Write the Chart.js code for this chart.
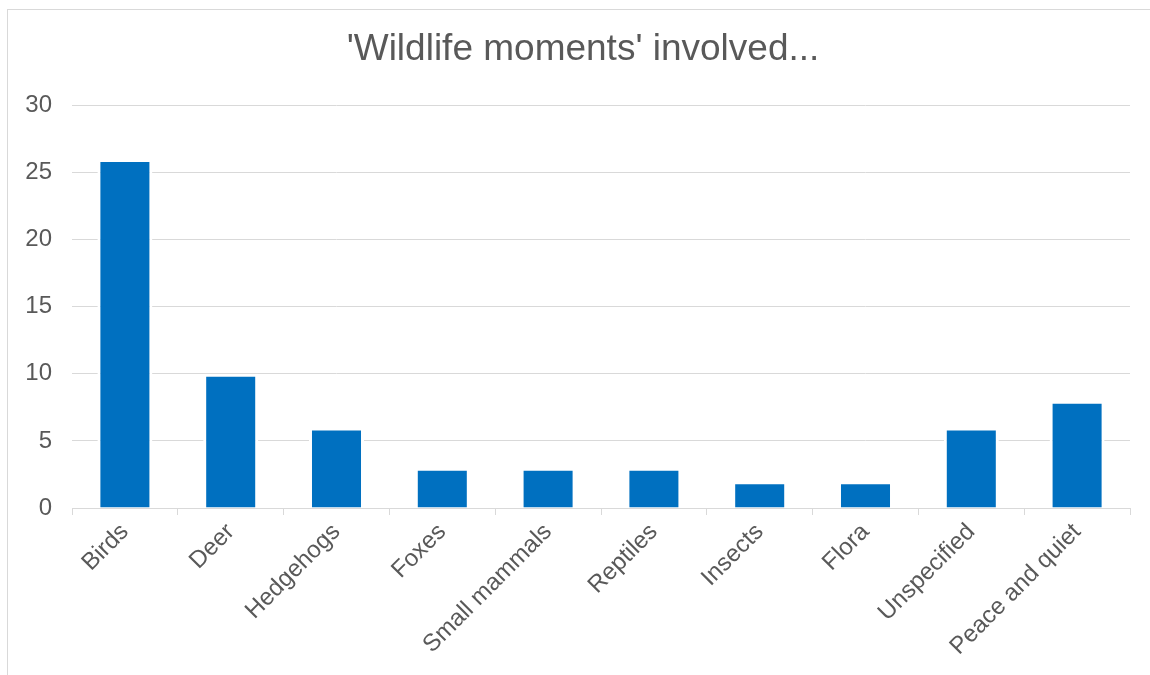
<!DOCTYPE html>
<html>
<head>
<meta charset="utf-8">
<script src="https://cdn.jsdelivr.net/npm/chart.js@4"></script>
<style>
  html, body { margin: 0; padding: 0; background: #fff; overflow: hidden; }
  #frame {
    position: absolute; left: 7px; top: 9px;
    width: 1152px; height: 700px;
    border: 1px solid #d9d9d9;
  }
</style>
</head>
<body>
<div id="frame"><canvas id="chart"></canvas></div>
<script>
// values
const categories = ['Birds', 'Deer', 'Hedgehogs', 'Foxes', 'Small mammals',
                    'Reptiles', 'Insects', 'Flora', 'Unspecified', 'Peace and quiet'];
const counts     = [26, 10, 6, 3, 3, 3, 2, 2, 6, 8];
const yTicks     = [0, 5, 10, 15, 20, 25, 30];

const gray  = '#595959';
const grid  = '#d9d9d9';
const font  = 'Liberation Sans, Arial, sans-serif';

new Chart(document.getElementById('chart'), {
  type: 'bar',
  data: {
    labels: categories,
    datasets: [{
      data:               counts,
      backgroundColor:    '#0070c0',
      borderColor:        '#ffffff',
      borderWidth:        3,
      categoryPercentage: 1,
      barPercentage:      0.52,
    }],
  },
  options: {
    responsive:          true,
    maintainAspectRatio: false,
    animation:           false,
    layout: { padding: { left: 0, right: 2, top: 0, bottom: 0 } },
    plugins: {
      legend:  { display: false },
      tooltip: { enabled: false },
      title: {
        display: true,
        text:    "'Wildlife moments' involved...",
        color:   gray,
        font:    { family: font, size: 37, weight: 'normal' },
        padding: { top: 18, bottom: 33 },
      },
    },
    scales: {
      x: {
        grid:   { offset: true, drawOnChartArea: false, drawTicks: true, tickLength: 7, color: grid },
        border: { display: true, color: grid, width: 1 },
        ticks:  { color: gray, font: { family: font, size: 24 }, minRotation: 45, maxRotation: 45, padding: 3 },
        afterFit(scale) { scale.height = 202; },
      },
      y: {
        min: 0, max: 30,
        afterBuildTicks(scale) { scale.ticks = yTicks.map(v => ({ value: v })); },
        grid:   { color: grid, drawTicks: false },
        border: { display: false },
        ticks:  { color: gray, font: { family: font, size: 24 }, padding: 20 },
        afterFit(scale) { scale.width = 64; },
      },
      // empty right-hand spacer so the title stays centred on the whole frame
      spacer: {
        position: 'right',
        grid:   { display: false },
        border: { display: false },
        ticks:  { display: false },
        afterFit(scale) { scale.width = 28; },
      },
    },
  },
});
</script>
</body>
</html>
